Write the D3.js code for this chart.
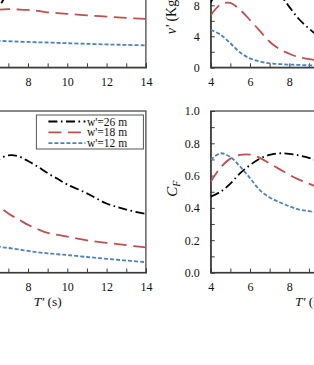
<!DOCTYPE html>
<html>
<head>
<meta charset="utf-8">
<script src="https://cdn.jsdelivr.net/npm/d3@7"></script>
<style>
  body { margin: 0; background: #fff; }
  svg { display: block; font-family: "Liberation Serif", "Times New Roman", serif; }
</style>
</head>
<body>
<svg id="fig" width="314" height="365"></svg>
<script>
// wave period T' (s), shared by every curve
const periods = [4, 4.5, 5, 5.5, 6, 6.5, 7, 7.5, 8, 8.5, 9, 9.5, 10, 11, 12, 13, 14];
const widths = ["w'=26 m", "w'=18 m", "w'=12 m"];

// top-left panel
const topLeft26 = [2.5, 3.2, 3.9, 4.7, 5.6, 7.7, 9.6, 10.7, 11.3, 11.6, 11.8, 11.8, 11.7, 11.5, 11.2, 10.9, 10.6];
const topLeft18 = [3.2, 4.5, 5.6, 6.4, 7.0, 7.4, 7.5, 7.46, 7.4, 7.28, 7.1, 7.0, 6.9, 6.7, 6.54, 6.38, 6.25];
const topLeft12 = [2.6, 3.0, 3.3, 3.45, 3.48, 3.42, 3.36, 3.31, 3.27, 3.23, 3.2, 3.15, 3.11, 3.03, 2.95, 2.89, 2.83];

// top-right panel, nu'
const nu26 = [8.4, 10.5, 12.5, 13.8, 14.3, 13.6, 11.8, 9.6, 7.8, 6.2, 5.0, 4.0, 3.3, 2.3, 1.7, 1.3, 1.0];
const nu18 = [6.7, 8.1, 8.3, 7.4, 6.1, 4.7, 3.3, 2.35, 1.75, 1.3, 1.05, 0.9, 0.8, 0.65, 0.55, 0.47, 0.4];
const nu12 = [4.85, 4.2, 3.1, 1.9, 1.15, 0.75, 0.5, 0.42, 0.35, 0.3, 0.25, 0.22, 0.2, 0.16, 0.12, 0.11, 0.1];

// bottom-left panel
const botLeft26 = [0.33, 0.42, 0.5, 0.58, 0.65, 0.70, 0.725, 0.72, 0.69, 0.655, 0.615, 0.58, 0.545, 0.49, 0.427, 0.39, 0.362];
const botLeft18 = [0.72, 0.70, 0.65, 0.58, 0.50, 0.415, 0.365, 0.33, 0.295, 0.268, 0.245, 0.233, 0.222, 0.199, 0.184, 0.169, 0.155];
const botLeft12 = [0.45, 0.40, 0.34, 0.28, 0.22, 0.163, 0.152, 0.143, 0.134, 0.125, 0.119, 0.113, 0.108, 0.096, 0.085, 0.074, 0.064];

// bottom-right panel, C_F
const cf26 = [0.47, 0.5, 0.55, 0.615, 0.665, 0.705, 0.728, 0.738, 0.735, 0.725, 0.71, 0.69, 0.67, 0.63, 0.59, 0.56, 0.53];
const cf18 = [0.56, 0.65, 0.705, 0.728, 0.73, 0.71, 0.675, 0.64, 0.605, 0.575, 0.55, 0.525, 0.5, 0.46, 0.43, 0.40, 0.38];
const cf12 = [0.697, 0.738, 0.715, 0.655, 0.585, 0.51, 0.465, 0.435, 0.41, 0.39, 0.38, 0.37, 0.36, 0.34, 0.33, 0.32, 0.31];

const lineStyles = [
  { color: "#000000", dash: "9,3.5,1.6,3.5" },
  { color: "#C0504D", dash: "13,6.5" },
  { color: "#4F81BD", dash: "4,2" }
];

const serif = "Liberation Serif, Times New Roman, serif";
const svg = d3.select("#fig");

// panel boxes (the figure is a crop of a larger 2x2 layout)
const panels = [
  { id: "tl", x: -50.6, y: -87.7, w: 196.5, h: 155, yMax: 20, yStep: 2, yLabelEvery: 4, series: [topLeft26, topLeft18, topLeft12], xTitle: false },
  { id: "tr", x: 210.7, y: -87.7, w: 196.5, h: 155, yMax: 20, yStep: 2, yLabelEvery: 4, series: [nu26, nu18, nu12], xTitle: false },
  { id: "bl", x: -50.6, y: 111, w: 196.5, h: 161.5, yMax: 1, yStep: 0.1, yLabelEvery: 0.2, series: [botLeft26, botLeft18, botLeft12], xTitle: true },
  { id: "br", x: 210.7, y: 111, w: 196.5, h: 161.5, yMax: 1, yStep: 0.1, yLabelEvery: 0.2, series: [cf26, cf18, cf12], xTitle: true }
];

panels.forEach(function (p) {
  let g = svg.append("g").attr("transform", `translate(${p.x},${p.y})`);

  let x = d3.scaleLinear().domain([4, 14]).range([0, p.w]);
  let y = d3.scaleLinear().domain([0, p.yMax]).range([p.h, 0]);

  g.append("clipPath").attr("id", "clip-" + p.id)
    .append("rect").attr("width", p.w).attr("height", p.h);

  // x axis: tick every 1 s, label every 2 s
  let xAxis = d3.axisBottom(x)
    .tickValues(d3.range(4, 14.01, 1))
    .tickSize(-4)
    .tickPadding(10)
    .tickFormat(d => d % 2 === 0 ? d3.format("d")(d) : "");
  g.append("g").attr("class", "x-axis")
    .attr("transform", `translate(0,${p.h})`)
    .call(xAxis)
    .attr("font-family", serif)
    .attr("font-size", 12);

  // y axis
  let yTicks = d3.range(0, p.yMax + 1e-9, p.yStep);
  let yAxis = d3.axisLeft(y)
    .tickValues(yTicks)
    .tickSize(-4)
    .tickPadding(11)
    .tickFormat(d => {
      let k = Math.round(d / p.yLabelEvery * 1000) / 1000;
      if (Math.abs(k - Math.round(k)) > 1e-6) return "";
      return p.yMax === 1 ? d3.format(".1f")(d) : d3.format("d")(d);
    });
  g.append("g").attr("class", "y-axis")
    .call(yAxis)
    .attr("font-family", serif)
    .attr("font-size", 12);

  g.selectAll(".domain").attr("stroke", "#3a3a3a").attr("stroke-width", 1.2);
  g.selectAll(".tick line").attr("stroke", "#3a3a3a").attr("stroke-width", 1);
  g.selectAll(".tick text").attr("fill", "#111");

  // frame
  g.append("rect")
    .attr("width", p.w).attr("height", p.h)
    .attr("fill", "none")
    .attr("stroke", "#3a3a3a")
    .attr("stroke-width", 1.2);

  let line = d3.line()
    .x((d, i) => x(periods[i]))
    .y(d => y(d))
    .curve(d3.curveCatmullRom.alpha(0.5));

  g.append("g").attr("clip-path", `url(#clip-${p.id})`)
    .selectAll(".curve")
    .data(p.series)
    .enter()
    .append("path")
    .attr("class", "curve")
    .attr("fill", "none")
    .attr("stroke", (d, i) => lineStyles[i].color)
    .attr("stroke-dasharray", (d, i) => lineStyles[i].dash)
    .attr("stroke-width", 1.8)
    .attr("d", d => line(d));

  if (p.xTitle) {
    let t = g.append("text")
      .attr("x", p.w / 2)
      .attr("y", p.h + 33.5)
      .attr("text-anchor", "middle")
      .attr("font-family", serif)
      .attr("font-size", 13.5)
      .attr("fill", "#111");
    t.append("tspan").attr("font-style", "italic").text("T'");
    t.append("tspan").text(" (s)");
  }

  p.g = g;
});

// y titles of the right-hand panels
{
  let tr = panels[1];
  let t = tr.g.append("text")
    .attr("transform", `translate(-35,${tr.h - 33}) rotate(-90)`)
    .attr("text-anchor", "start")
    .attr("font-family", serif)
    .attr("font-size", 14)
    .attr("fill", "#111");
  t.append("tspan").attr("font-style", "italic").text("ν'");
  t.append("tspan").text(" (Kg/s)");

  let br = panels[3];
  let c = br.g.append("text")
    .attr("transform", `translate(-34,${br.h / 2 - 3}) rotate(-90)`)
    .attr("text-anchor", "middle")
    .attr("font-family", serif)
    .attr("font-size", 15)
    .attr("font-style", "italic")
    .attr("fill", "#111");
  c.append("tspan").text("C");
  c.append("tspan").attr("font-size", 10).attr("dy", 3).text("F");
}

// legend in the bottom-left panel
{
  let bl = panels[2];
  let lw = 107, lh = 34;
  let lg = bl.g.append("g")
    .attr("transform", `translate(${bl.w - lw - 2.5},4)`);
  lg.append("rect")
    .attr("width", lw).attr("height", lh)
    .attr("fill", "#fff")
    .attr("stroke", "#555")
    .attr("stroke-width", 1);
  let rows = lg.selectAll(".row")
    .data(widths)
    .enter()
    .append("g")
    .attr("class", "row")
    .attr("transform", (d, i) => `translate(0,${6.5 + i * 10.8})`);
  rows.append("line")
    .attr("x1", 12).attr("x2", 49)
    .attr("stroke", (d, i) => lineStyles[i].color)
    .attr("stroke-dasharray", (d, i) => lineStyles[i].dash)
    .attr("stroke-width", 1.8);
  rows.append("text")
    .attr("x", 50.5)
    .attr("dy", "0.35em")
    .attr("font-family", serif)
    .attr("font-size", 11.5)
    .attr("fill", "#111")
    .text(d => d);
}
</script>
</body>
</html>
